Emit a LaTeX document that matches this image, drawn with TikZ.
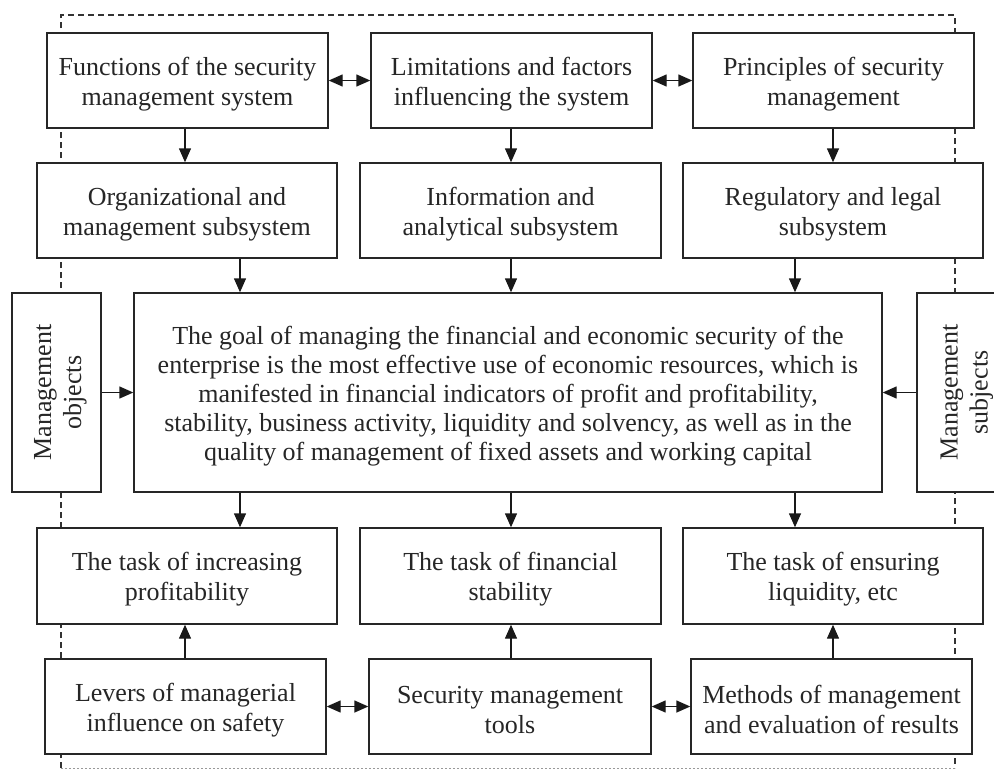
\documentclass[tikz,border=0pt]{standalone}
\usepackage{fontspec}
\setmainfont{Liberation Serif}
\usetikzlibrary{arrows.meta}
\newcommand\topstrut{\rule{0pt}{25pt}}
\tikzset{
  box/.style={draw=black!85, line width=1.4pt, fill=white, rectangle, align=center,
    inner sep=0pt, text=black!85, font=\fontsize{26}{30}\selectfont},
  arr/.style={line width=1.4pt, draw=black!90, -{Triangle[length=14pt,width=12pt]}},
  darr/.style={line width=1.4pt, draw=black!90, {Triangle[length=14pt,width=12pt]}-{Triangle[length=14pt,width=12pt]}},
  frame/.style={line width=1.2pt, draw=black!80, dash pattern=on 6pt off 4pt},
  framebottom/.style={line width=1pt, draw=black!40, dash pattern=on 2pt off 2pt}
}
\begin{document}
\begin{tikzpicture}[x=1pt,y=-1pt]
\useasboundingbox (0,0) rectangle (994,772);
\clip (0,0) rectangle (994,772);
% dashed frame
\coordinate (f1) at (61,768);
\coordinate (f2) at (61,15);
\coordinate (f3) at (955,15);
\coordinate (f4) at (955,768);
\draw[frame] (f1) -- (f2) -- (f3) -- (f4);
\draw[framebottom] (f1) -- (f4);
% boxes
\node[box, minimum width=281pt, minimum height=95pt] (fun) at (187.5,80.5) {\topstrut Functions of the security\\management system};
\node[box, minimum width=281pt, minimum height=95pt] (lim) at (511.5,80.5) {\topstrut Limitations and factors\\influencing the system};
\node[box, minimum width=281pt, minimum height=95pt] (pri) at (833.5,80.5) {\topstrut Principles of security\\management};
\node[box, minimum width=300pt, minimum height=95pt] (org) at (187,210.5) {\topstrut Organizational and\\management subsystem};
\node[box, minimum width=301pt, minimum height=95pt] (inf) at (510.5,210.5) {\topstrut Information and\\analytical subsystem};
\node[box, minimum width=300pt, minimum height=95pt] (reg) at (833,210.5) {\topstrut Regulatory and legal\\subsystem};
\node[box, rotate=90, minimum width=199pt, minimum height=89pt] (obj) at (56.5,392.5) {\topstrut Management\\objects};
\node[box, minimum width=748pt, minimum height=199pt, font=\fontsize{26}{29}\selectfont] (goal) at (508,392.5) {\topstrut The goal of managing the financial and economic security of the\\enterprise is the most effective use of economic resources, which is\\manifested in financial indicators of profit and profitability,\\stability, business activity, liquidity and solvency, as well as in the\\quality of management of fixed assets and working capital};
\node[box, rotate=90, minimum width=199pt, minimum height=92pt] (sub) at (963,392.5) {\topstrut Management\\subjects};
\node[box, minimum width=300pt, minimum height=96pt] (t1) at (187,576) {\topstrut The task of increasing\\profitability};
\node[box, minimum width=301pt, minimum height=96pt] (t2) at (510.5,576) {\topstrut The task of financial\\stability};
\node[box, minimum width=300pt, minimum height=96pt] (t3) at (833,576) {\topstrut The task of ensuring\\liquidity, etc};
\node[box, minimum width=281pt, minimum height=95pt] (lev) at (185.5,706.5) {\topstrut Levers of managerial\\influence on safety};
\node[box, minimum width=282pt, minimum height=95pt] (sec) at (510,706.5) {\topstrut Security management\\tools};
\node[box, minimum width=281pt, minimum height=95pt] (met) at (831.5,706.5) {\topstrut Methods of management\\and evaluation of results};
% columns for arrows
\coordinate (a1) at (185,0);
\coordinate (a2) at (511,0);
\coordinate (a3) at (833,0);
\coordinate (b1) at (240,0);
\coordinate (b3) at (795,0);
% arrows
\draw[darr] (fun.east) -- (lim.west);
\draw[darr] (lim.east) -- (pri.west);
\draw[arr] (a1 |- fun.south) -- (a1 |- org.north);
\draw[arr] (a2 |- lim.south) -- (a2 |- inf.north);
\draw[arr] (a3 |- pri.south) -- (a3 |- reg.north);
\draw[arr] (b1 |- org.south) -- (b1 |- goal.north);
\draw[arr] (a2 |- inf.south) -- (a2 |- goal.north);
\draw[arr] (b3 |- reg.south) -- (b3 |- goal.north);
\draw[arr] (obj.south) -- (goal.west);
\draw[arr] (sub.north) -- (goal.east);
\draw[arr] (b1 |- goal.south) -- (b1 |- t1.north);
\draw[arr] (a2 |- goal.south) -- (a2 |- t2.north);
\draw[arr] (b3 |- goal.south) -- (b3 |- t3.north);
\draw[arr] (a1 |- lev.north) -- (a1 |- t1.south);
\draw[arr] (a2 |- sec.north) -- (a2 |- t2.south);
\draw[arr] (a3 |- met.north) -- (a3 |- t3.south);
\draw[darr] (lev.east) -- (sec.west);
\draw[darr] (sec.east) -- (met.west);
\end{tikzpicture}
\end{document}
